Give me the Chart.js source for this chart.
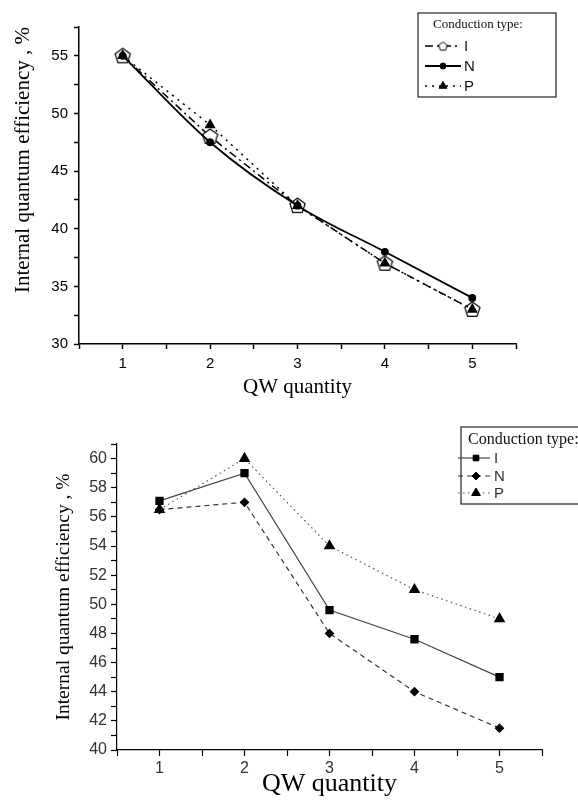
<!DOCTYPE html>
<html>
<head>
<meta charset="utf-8">
<script src="https://cdn.jsdelivr.net/npm/chart.js@4.4.1/dist/chart.umd.min.js"></script>
<style>
  html, body { margin: 0; padding: 0; background: #fff; }
  .wrap { width: 578px; height: 400px; position: relative; }
  canvas { display: block; }
</style>
</head>
<body>
<div class="wrap"><canvas id="topChart" width="578" height="400"></canvas></div>
<div class="wrap"><canvas id="bottomChart" width="578" height="400"></canvas></div>
<script>
// data
const qwQuantity = [1, 2, 3, 4, 5];
const typeNames = ['I', 'N', 'P'];

const topI = [55, 48, 42, 37, 33];
const topN = [55, 47.5, 42, 38, 34];
const topP = [55, 49, 42, 37, 33];

const bottomI = [57.1, 59, 49.6, 47.6, 45];
const bottomN = [56.5, 57, 48, 44, 41.5];
const bottomP = [56.5, 60, 54, 51, 49];

const xTickLabels = [1, 2, 3, 4, 5];
const topYTickLabels = [30, 35, 40, 45, 50, 55];
const bottomYTickLabels = [40, 42, 44, 46, 48, 50, 52, 54, 56, 58, 60];

const SERIF = '"Liberation Serif", "Times New Roman", serif';
const SANS = '"Liberation Sans", Arial, sans-serif';

const pts = (ys) => qwQuantity.map((x, i) => ({ x, y: ys[i] }));

function pentagon(r, lw) {
  const c = document.createElement('canvas');
  const s = Math.ceil(2 * r + lw * 2 + 2);
  c.width = c.height = s;
  const g = c.getContext('2d');
  g.beginPath();
  for (let i = 0; i < 5; i++) {
    const a = -Math.PI / 2 + i * 2 * Math.PI / 5;
    g.lineTo(s / 2 + r * Math.cos(a), s / 2 + r * Math.sin(a) + 0.5);
  }
  g.closePath();
  g.fillStyle = '#fff';
  g.fill();
  g.lineWidth = lw;
  g.strokeStyle = '#000';
  g.stroke();
  return c;
}

// boxed legend with line samples, drawn on the canvas
const legendBox = {
  id: 'legendBox',
  afterDatasetsDraw(chart, args, o) {
    const ctx = chart.ctx;
    ctx.save();
    ctx.lineWidth = 1.2;
    ctx.strokeStyle = '#222';
    ctx.strokeRect(o.x, o.y, o.w, o.h);
    ctx.fillStyle = '#111';
    ctx.font = o.titleFont;
    ctx.textBaseline = 'middle';
    ctx.textAlign = 'left';
    ctx.fillText(o.title, o.titleX, o.titleY);
    chart.data.datasets.forEach((ds, i) => {
      const y = o.rowY[i];
      ctx.save();
      ctx.strokeStyle = ds.borderColor;
      ctx.lineWidth = ds.borderWidth;
      ctx.setLineDash(ds.borderDash || []);
      ctx.beginPath();
      ctx.moveTo(o.lineX0, y);
      ctx.lineTo(o.lineX1, y);
      ctx.stroke();
      ctx.restore();
      ctx.fillStyle = ds.pointBackgroundColor;
      ctx.strokeStyle = ds.pointBorderColor;
      ctx.lineWidth = 1;
      Chart.helpers.drawPoint(ctx, {
        pointStyle: ds.legendPointStyle || ds.pointStyle,
        radius: ds.legendRadius || ds.pointRadius,
        rotation: 0,
        borderWidth: 1
      }, o.markerX, y);
      ctx.fillStyle = o.labelColor;
      ctx.font = o.labelFont;
      ctx.fillText(ds.label, o.labelX, y + 1);
    });
    ctx.restore();
  }
};

function axes(cfg) {
  return {
    x: {
      type: 'linear',
      min: 0.5, max: 5.5,
      afterFit: (s) => { s.height = cfg.xHeight; },
      border: { display: true, color: '#000', width: cfg.axisWidth },
      grid: { drawOnChartArea: false, drawTicks: true, tickLength: cfg.tickLength, tickColor: '#000', tickWidth: cfg.axisWidth },
      ticks: {
        stepSize: 0.5, autoSkip: false, maxRotation: 0, padding: cfg.xPad,
        color: cfg.tickColor, font: { family: SANS, size: cfg.tickSize },
        callback: (v) => xTickLabels.includes(v) ? String(v) : ''
      },
      title: {
        display: true, text: 'QW quantity', color: '#000',
        font: { family: SERIF, size: cfg.xTitleSize }, padding: { top: 0, bottom: 0 }
      }
    },
    y: {
      type: 'linear',
      min: cfg.yMin, max: cfg.yMax,
      afterFit: (s) => { s.width = cfg.yWidth; },
      border: { display: true, color: '#000', width: cfg.axisWidth },
      grid: { drawOnChartArea: false, drawTicks: true, tickLength: cfg.tickLength, tickColor: '#000', tickWidth: cfg.axisWidth },
      ticks: {
        stepSize: cfg.yStep, autoSkip: false, padding: cfg.yPad,
        color: cfg.tickColor, font: { family: SANS, size: cfg.tickSize },
        callback: (v) => cfg.yLabels.includes(v) ? String(v) : ''
      },
      title: {
        display: true, text: 'Internal quantum efficiency , %', color: '#000', align: cfg.yTitleAlign,
        font: { family: SERIF, size: cfg.yTitleSize }, padding: { top: cfg.yTitlePad, bottom: 0 }
      }
    }
  };
}

new Chart(document.getElementById('topChart'), {
  type: 'line',
  data: {
    datasets: [
      {
        label: typeNames[0], data: pts(topI), order: 2,
        borderColor: '#000', borderWidth: 1.5, borderDash: [8, 4, 2, 4],
        pointStyle: pentagon(8, 1.2), legendPointStyle: pentagon(4.5, 1), pointRadius: 8,
        pointBackgroundColor: '#fff', pointBorderColor: '#000'
      },
      {
        label: typeNames[1], data: pts(topN), order: 1,
        borderColor: '#000', borderWidth: 1.8, cubicInterpolationMode: 'monotone',
        pointStyle: 'circle', pointRadius: 3, legendRadius: 3,
        pointBackgroundColor: '#000', pointBorderColor: '#000'
      },
      {
        label: typeNames[2], data: pts(topP), order: 0,
        borderColor: '#000', borderWidth: 1.5, borderDash: [2, 5],
        pointStyle: 'triangle', pointRadius: 5, legendRadius: 4.5,
        pointBackgroundColor: '#000', pointBorderColor: '#000'
      }
    ]
  },
  options: {
    responsive: false, animation: false, events: [],
    layout: { padding: { left: 0, right: 62, top: 27, bottom: 0 } },
    plugins: {
      legend: { display: false }, tooltip: { enabled: false },
      legendBox: {
        x: 418, y: 13, w: 138, h: 84,
        title: 'Conduction type:', titleFont: '13px ' + SERIF, titleX: 433, titleY: 25,
        rowY: [46, 66, 86], lineX0: 425, lineX1: 461, markerX: 443,
        labelX: 464, labelFont: '15px ' + SANS, labelColor: '#111'
      }
    },
    scales: axes({
      xHeight: 56, yWidth: 79, axisWidth: 1.5, tickLength: 5, xPad: 6, yPad: 6,
      tickColor: '#000', tickSize: 15, xTitleSize: 21, yTitleSize: 21,
      yMin: 30, yMax: 57.5, yStep: 2.5, yLabels: topYTickLabels,
      yTitleAlign: 'end', yTitlePad: 11
    })
  },
  plugins: [legendBox]
});

new Chart(document.getElementById('bottomChart'), {
  type: 'line',
  data: {
    datasets: [
      {
        label: typeNames[0], data: pts(bottomI), order: 1,
        borderColor: '#444', borderWidth: 1.2,
        pointStyle: 'rect', pointRadius: 5, legendRadius: 4,
        pointBackgroundColor: '#000', pointBorderColor: '#000'
      },
      {
        label: typeNames[1], data: pts(bottomN), order: 2,
        borderColor: '#333', borderWidth: 1.2, borderDash: [5, 4],
        pointStyle: 'rectRot', pointRadius: 4, legendRadius: 4,
        pointBackgroundColor: '#000', pointBorderColor: '#000'
      },
      {
        label: typeNames[2], data: pts(bottomP), order: 0,
        borderColor: '#555', borderWidth: 1.2, borderDash: [1.5, 3.5],
        pointStyle: 'triangle', pointRadius: 5.5, legendRadius: 5,
        pointBackgroundColor: '#000', pointBorderColor: '#000'
      }
    ]
  },
  options: {
    responsive: false, animation: false, events: [],
    layout: { padding: { left: 0, right: 36, top: 44, bottom: 0 } },
    plugins: {
      legend: { display: false }, tooltip: { enabled: false },
      legendBox: {
        x: 461, y: 27, w: 140, h: 77,
        title: 'Conduction type:', titleFont: '16px ' + SERIF, titleX: 468, titleY: 40,
        rowY: [58, 76, 93], lineX0: 458, lineX1: 490, markerX: 476,
        labelX: 494, labelFont: '15px ' + SANS, labelColor: '#333'
      }
    },
    scales: axes({
      xHeight: 50, yWidth: 117, axisWidth: 1.2, tickLength: 6, xPad: 3, yPad: 4,
      tickColor: '#333', tickSize: 16, xTitleSize: 26, yTitleSize: 19.5,
      yMin: 40, yMax: 61, yStep: 1, yLabels: bottomYTickLabels,
      yTitleAlign: 'center', yTitlePad: 52
    })
  },
  plugins: [legendBox]
});
</script>
</body>
</html>
